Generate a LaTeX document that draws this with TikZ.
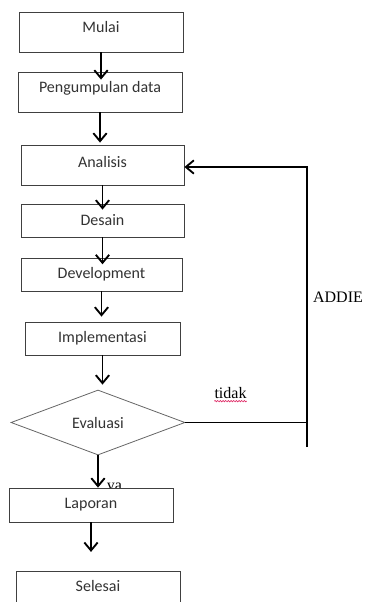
\documentclass[tikz,border=0pt]{standalone}
\usepackage{fontspec}
\setmainfont{Carlito}
\newfontfamily\hurufserif{Liberation Serif}
\usetikzlibrary{shapes.geometric,arrows.meta,decorations.pathmorphing}
\definecolor{ejaan}{HTML}{E0306A}

\tikzset{
  kotak/.style = {draw = black!75, line width = .6pt, fill = white, inner sep = 0pt,
    font = \fontsize{12}{14}\selectfont, text = black!80},
  naik/.style = {text depth = #1},
  belah/.style = {kotak, diamond, draw = black!60, minimum width = 130.5pt, minimum height = 48.75pt},
  alur/.style = {-{Straight Barb[length = 6pt, width = 10pt]}, line width = 1.4pt},
  teks/.style = {inner sep = 0pt, font = \hurufserif\fontsize{12}{14}\selectfont},
}

\begin{document}
\begin{tikzpicture}[x = .75pt, y = -.75pt]
\useasboundingbox (0,0) rectangle (370,602);

% kotak kotak alur
\node[kotak, naik = 7.5pt, minimum width = 123pt, minimum height = 30pt] (mulai) at (101,32) {Mulai};
\node[kotak, naik = 7pt, minimum width = 123pt, minimum height = 30pt] (data) at (100,92) {Pengumpulan data};
\node[kotak, naik = 4.5pt, minimum width = 122.25pt, minimum height = 30pt] (analisis) at (102.5,165) {Analisis};
\node[kotak, minimum width = 122.25pt, minimum height = 24.75pt] (desain) at (102.5,220.5) {Desain};
\node[kotak, minimum width = 120.75pt, minimum height = 24.75pt] (develop) at (101.5,274.5) {Development};
\node[kotak, minimum width = 116.25pt, minimum height = 24.75pt] (implement) at (102.5,338.5) {Implementasi};
\node[belah] (evaluasi) at (98,422.5) {Evaluasi};

\node[teks] (ya) at (114.5,488) {ya};
\node[kotak, minimum width = 123pt, minimum height = 25.5pt] (laporan) at (91,505) {Laporan};
\node[kotak, naik = 7.5pt, minimum width = 123pt, minimum height = 30pt] (selesai) at (98,591) {Selesai};

% panah ke bawah
\draw[alur] (mulai.south) -- ([yshift = -6pt]mulai.south |- data.north);
\draw[alur] (data.south) -- ([yshift = 1.5pt]data.south |- analisis.north);
\draw[alur] (analisis.south) -- ([yshift = -4.5pt]analisis.south |- desain.north);
\draw[alur] (desain.south) -- ([yshift = -5pt]desain.south |- develop.north);
\draw[alur] (develop.south) -- ([yshift = 3.75pt]develop.south |- implement.north);
\draw[alur] (implement.south) -- ([yshift = 3.75pt]implement.south |- evaluasi.north);
\draw[alur] (evaluasi.south) -- (evaluasi.south |- laporan.north);
\draw[alur] (laporan.south) -- ([yshift = 14pt]laporan.south |- selesai.north);

% balik ke analisis
\coordinate (sudut) at (307,167);
\coordinate (ujung) at (307,447);
\draw[alur] (ujung) -- (sudut) -- (sudut -| analisis.east);
\draw[line width = 1.4pt] (evaluasi.east) -- (evaluasi.east -| ujung);

\node[teks] (addie) at (338,297) {ADDIE};
\node[teks] (tidak) at (230.5,393) {tidak};
\draw[ejaan, line width = .5pt, decorate, decoration = {snake, amplitude = .5pt, segment length = 2pt}]
  ([yshift = -2pt]tidak.base west) -- ([yshift = -2pt]tidak.base east);
\end{tikzpicture}
\end{document}
